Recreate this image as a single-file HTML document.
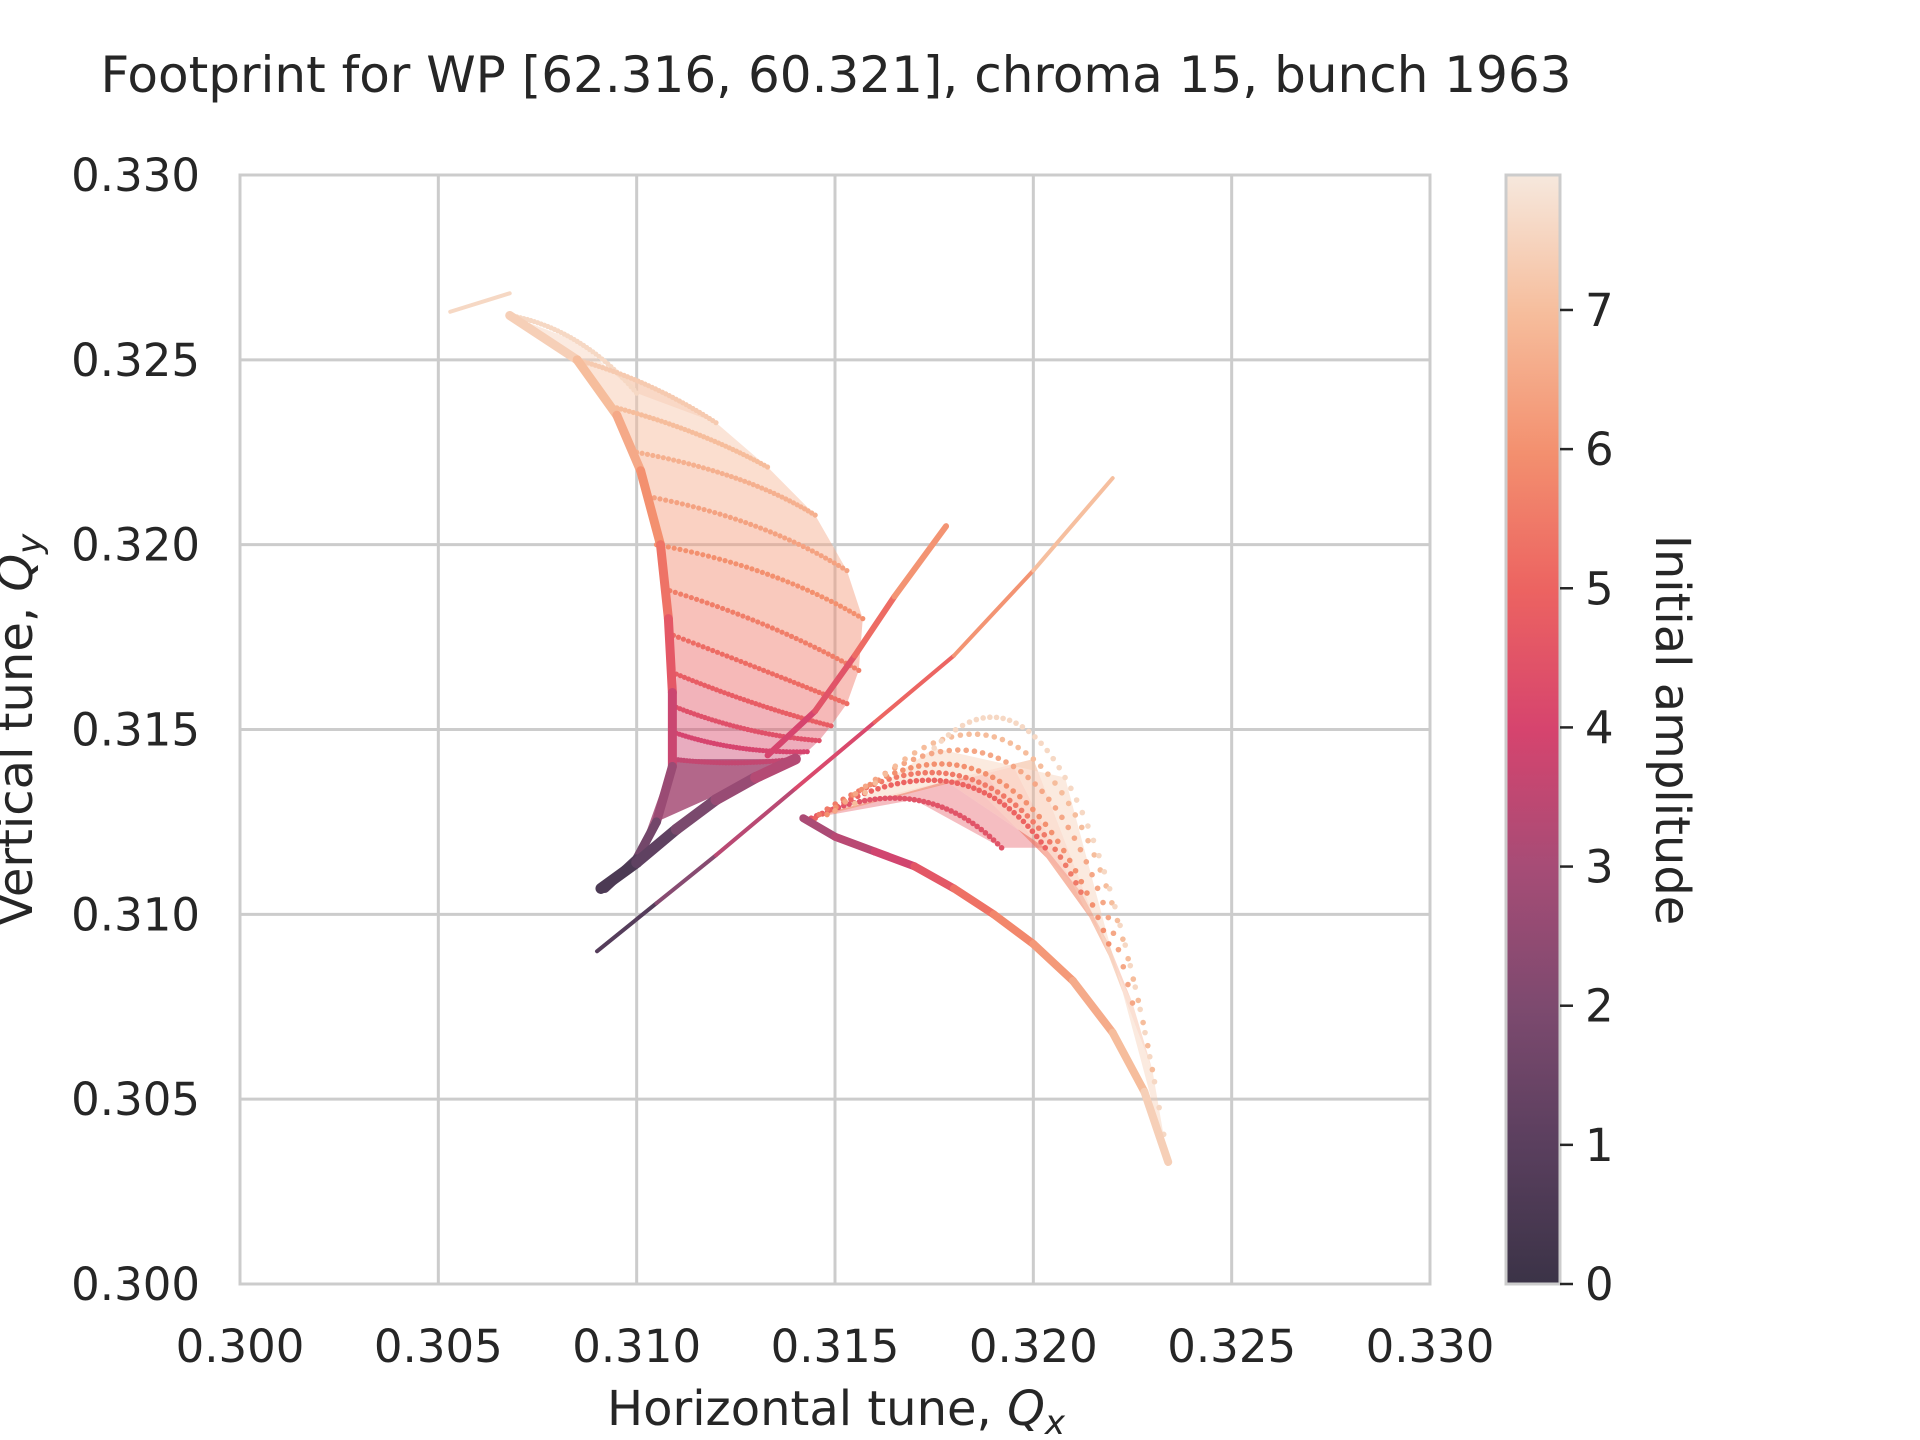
<!DOCTYPE html>
<html><head><meta charset="utf-8"><style>
html,body{margin:0;padding:0;background:#fff;}
svg{display:block;font-family:"DejaVu Sans","Liberation Sans",sans-serif;}
</style></head><body>
<svg id="chart" width="1920" height="1440" viewBox="0 0 1920 1440" xmlns="http://www.w3.org/2000/svg">
<defs>
<linearGradient id="cbgrad" x1="0" y1="1" x2="0" y2="0">
<stop offset="0" stop-color="#3b3347"/><stop offset="0.125" stop-color="#5a3f5e"/><stop offset="0.25" stop-color="#7d4a6f"/>
<stop offset="0.375" stop-color="#a64c76"/><stop offset="0.5" stop-color="#d6446e"/><stop offset="0.625" stop-color="#ec6361"/>
<stop offset="0.75" stop-color="#f3906f"/><stop offset="0.875" stop-color="#f6bd9c"/><stop offset="1" stop-color="#f6e8dd"/>
</linearGradient>
</defs>
<text x="836" y="92" font-size="50" fill="#262626" text-anchor="middle">Footprint for WP [62.316, 60.321], chroma 15, bunch 1963</text>
<g id="grid"></g>
<g id="marks"></g>
<rect x="240" y="175" width="1190" height="1109" fill="none" stroke="#cccccc" stroke-width="3"/>
<g id="axes"></g>
<text x="836" y="1425" font-size="48" fill="#262626" text-anchor="middle">Horizontal tune, <tspan font-style="italic">Q</tspan><tspan font-style="italic" font-size="34" dy="9">x</tspan></text>
<text transform="translate(32,730) rotate(-90)" font-size="48" fill="#262626" text-anchor="middle">Vertical tune, <tspan font-style="italic">Q</tspan><tspan font-style="italic" font-size="34" dy="9">y</tspan></text>
<rect x="1506" y="175" width="54" height="1109" fill="url(#cbgrad)" stroke="#cccccc" stroke-width="3"/>
<g id="cbaxis"></g>
<text transform="translate(1656,730) rotate(90)" font-size="48" fill="#262626" text-anchor="middle">Initial amplitude</text>
</svg>
<script>
const xTicks=[0.300,0.305,0.310,0.315,0.320,0.325,0.330];
const yTicks=[0.300,0.305,0.310,0.315,0.320,0.325,0.330];
const cbTicks=[0,1,2,3,4,5,6,7];
const cbMax=7.97;
const upperAmp=[7.6,7.3,7.0,6.7,6.4,6.0,5.6,5.2,4.8,4.4,4.0,3.6];
const upperStart=[[0.3068,0.3262],[0.3085,0.3250],[0.3095,0.3237],[0.3100,0.3225],[0.3103,0.3213],[0.3105,0.3200],[0.3107,0.3188],[0.3108,0.3176],[0.3110,0.3165],[0.3110,0.3156],[0.3110,0.3149],[0.3109,0.3142]];
const upperMid=[[0.3085,0.3255],[0.3103,0.3243],[0.3115,0.3230],[0.3125,0.3218],[0.3130,0.3205],[0.3133,0.3192],[0.3133,0.3178],[0.3132,0.3166],[0.3130,0.3157],[0.3128,0.3150],[0.3126,0.3145],[0.3124,0.3141]];
const upperEnd=[[0.3100,0.3241],[0.3120,0.3233],[0.3133,0.3221],[0.3145,0.3208],[0.3153,0.3193],[0.3157,0.3180],[0.3156,0.3166],[0.3153,0.3157],[0.3149,0.3151],[0.3146,0.3147],[0.3143,0.3144],[0.3140,0.3142]];
const lowerAmp=[4.5,5.0,5.5,6.0,6.5,7.0,7.6];
const lowerStart=[[0.3144,0.3126],[0.3145,0.3126],[0.3146,0.3127],[0.3148,0.3127],[0.3150,0.3128],[0.3155,0.3130],[0.3175,0.3145]];
const lowerMid=[[0.3170,0.3131],[0.3178,0.3136],[0.3183,0.3137],[0.3188,0.3138],[0.3195,0.3140],[0.3200,0.3142],[0.3208,0.3137]];
const lowerEnd=[[0.3192,0.3118],[0.3203,0.3118],[0.3212,0.3106],[0.3219,0.3092],[0.3225,0.3076],[0.3230,0.3058],[0.3234,0.3033]];
const edgeQx=[0.3142,0.3150,0.3160,0.3170,0.3180,0.3190,0.3200,0.3210,0.3220,0.3228,0.3234];
const edgeQy=[0.3126,0.3121,0.3117,0.3113,0.3107,0.3100,0.3092,0.3082,0.3068,0.3052,0.3033];
const edgeAmp=[3.0,3.2,3.6,4.2,5.0,5.6,6.0,6.4,6.8,7.2,7.6];
const leftQx=[0.3068,0.3085,0.3095,0.3101,0.3106,0.3108,0.3109,0.3109,0.3105,0.3100,0.3092];
const leftQy=[0.3262,0.3250,0.3235,0.3220,0.3200,0.3180,0.3160,0.3140,0.3125,0.3115,0.3107];
const leftAmp=[7.6,7.2,6.8,6.3,5.7,5.0,4.3,3.2,2.2,1.2,0.5];
const tailQx=[0.3091,0.3100,0.3110,0.3120,0.3130,0.3140];
const tailQy=[0.3107,0.3114,0.3123,0.3131,0.3137,0.3142];
const tailAmp=[0.3,0.8,1.5,2.3,3.0,3.6];
const diagAQx=[0.3133,0.3145,0.3155,0.3165,0.3178];
const diagAQy=[0.3143,0.3155,0.3170,0.3186,0.3205];
const diagAAmp=[3.8,4.2,4.8,5.6,6.6];
const diagBQx=[0.3090,0.3105,0.3120,0.3140,0.3160,0.3180,0.3200,0.3220];
const diagBQy=[0.3090,0.3103,0.3116,0.3134,0.3152,0.3170,0.3193,0.3218];
const diagBAmp=[0.2,1.5,3.0,3.8,4.5,5.6,6.6,7.5];
const outlierQx=[0.3053,0.3068];
const outlierQy=[0.3263,0.3268];
const outlierAmp=[7.6,7.6];

const L=240,R=1430,T=175,B=1284;
const sx=v=>L+(v-0.300)/0.030*(R-L);
const sy=v=>B-(v-0.300)/0.030*(B-T);
const stops=[[0,[59,51,71]],[1,[90,63,94]],[2,[125,74,111]],[3,[166,76,118]],[4,[214,68,110]],[5,[236,99,97]],[6,[243,144,111]],[7,[246,189,156]],[7.97,[246,232,221]]];
function col(a){for(let i=0;i<stops.length-1;i++){const[a0,c0]=stops[i],[a1,c1]=stops[i+1];if(a<=a1||i==stops.length-2){const t=Math.max(0,Math.min(1,(a-a0)/(a1-a0)));return 'rgb('+c0.map((c,k)=>Math.round(c+(c1[k]-c)*t)).join(',')+')';}}}
const NS='http://www.w3.org/2000/svg';
function mk(tag,attrs,parent){const e=document.createElementNS(NS,tag);for(const k in attrs)e.setAttribute(k,attrs[k]);parent.appendChild(e);return e;}
const grid=document.getElementById('grid'),marks=document.getElementById('marks'),axes=document.getElementById('axes'),cb=document.getElementById('cbaxis');
xTicks.forEach(v=>{const l=mk('line',{x1:sx(v),x2:sx(v),y1:T,y2:B,stroke:'#cccccc','stroke-width':3},grid);


const t=mk('text',{x:sx(v),y:1362,'font-size':45,fill:'#262626','text-anchor':'middle'},axes);t.textContent=v.toFixed(3);

});
yTicks.forEach(v=>{const l=mk('line',{x1:L,x2:R,y1:sy(v),y2:sy(v),stroke:'#cccccc','stroke-width':3},grid);


const t=mk('text',{x:200,y:sy(v)+16,'font-size':45,fill:'#262626','text-anchor':'end'},axes);t.textContent=v.toFixed(3);

});
cbTicks.forEach(v=>{const y=B-v/cbMax*(B-T);
const l=mk('line',{x1:1560,x2:1573,y1:y,y2:y,stroke:'#262626','stroke-width':2.5},cb);


const t=mk('text',{x:1585,y:y+16,'font-size':45,fill:'#262626'},cb);t.textContent=v;

});
function fillPoly(pts,amp,name,op){const p=mk('polygon',{points:pts.map(q=>sx(q[0])+','+sy(q[1])).join(' '),fill:col(amp),'fill-opacity':op},marks);

}
for(let i=0;i<upperAmp.length-1;i++){
 fillPoly([upperStart[i],upperMid[i],upperEnd[i],upperEnd[i+1],upperMid[i+1],upperStart[i+1]],(upperAmp[i]+upperAmp[i+1])/2,'upper-wing-band',0.45);}
fillPoly([[0.3109,0.3142],[0.3140,0.3142],[0.3130,0.3137],[0.3105,0.3125],[0.3100,0.3115]],3.0,'upper-wing-core',0.85);
for(let i=0;i<lowerAmp.length-1;i++){
 fillPoly([lowerStart[i],lowerMid[i],lowerEnd[i],lowerEnd[i+1],lowerMid[i+1],lowerStart[i+1]],(lowerAmp[i]+lowerAmp[i+1])/2,'lower-wing-band',0.4);}
function curve(s,m,e,a,name,w){
 const N=40;
 for(let k=0;k<=N;k++){const t=k/N;
  const cx=2*m[0]-0.5*(s[0]+e[0]),cy=2*m[1]-0.5*(s[1]+e[1]);
  const x=(1-t)*(1-t)*s[0]+2*t*(1-t)*cx+t*t*e[0],y=(1-t)*(1-t)*s[1]+2*t*(1-t)*cy+t*t*e[1];
  const c=mk('circle',{cx:sx(x),cy:sy(y),r:w,fill:col(a)},marks);
  
  }
}
upperAmp.forEach((a,i)=>curve(upperStart[i],upperMid[i],upperEnd[i],a,'upper-fan-line',2.6));
lowerAmp.forEach((a,i)=>curve(lowerStart[i],lowerMid[i],lowerEnd[i],a,'lower-fan-line',2.8));
function poly(qx,qy,amp,name,w){
 for(let i=0;i<qx.length-1;i++){const l=mk('line',{x1:sx(qx[i]),y1:sy(qy[i]),x2:sx(qx[i+1]),y2:sy(qy[i+1]),stroke:col((amp[i]+amp[i+1])/2),'stroke-width':w,'stroke-linecap':'round'},marks);
 
 }
}
poly(leftQx,leftQy,leftAmp,'upper-wing-edge',9);
poly(tailQx,tailQy,tailAmp,'core-tail',11);
poly(edgeQx,edgeQy,edgeAmp,'lower-wing-edge',8);
poly(diagAQx,diagAQy,diagAAmp,'diagonal-line-a',6);
poly(diagBQx,diagBQy,diagBAmp,'diagonal-line-b',4);
poly(outlierQx,outlierQy,outlierAmp,'outlier-segment',4);
</script>
</body></html>
